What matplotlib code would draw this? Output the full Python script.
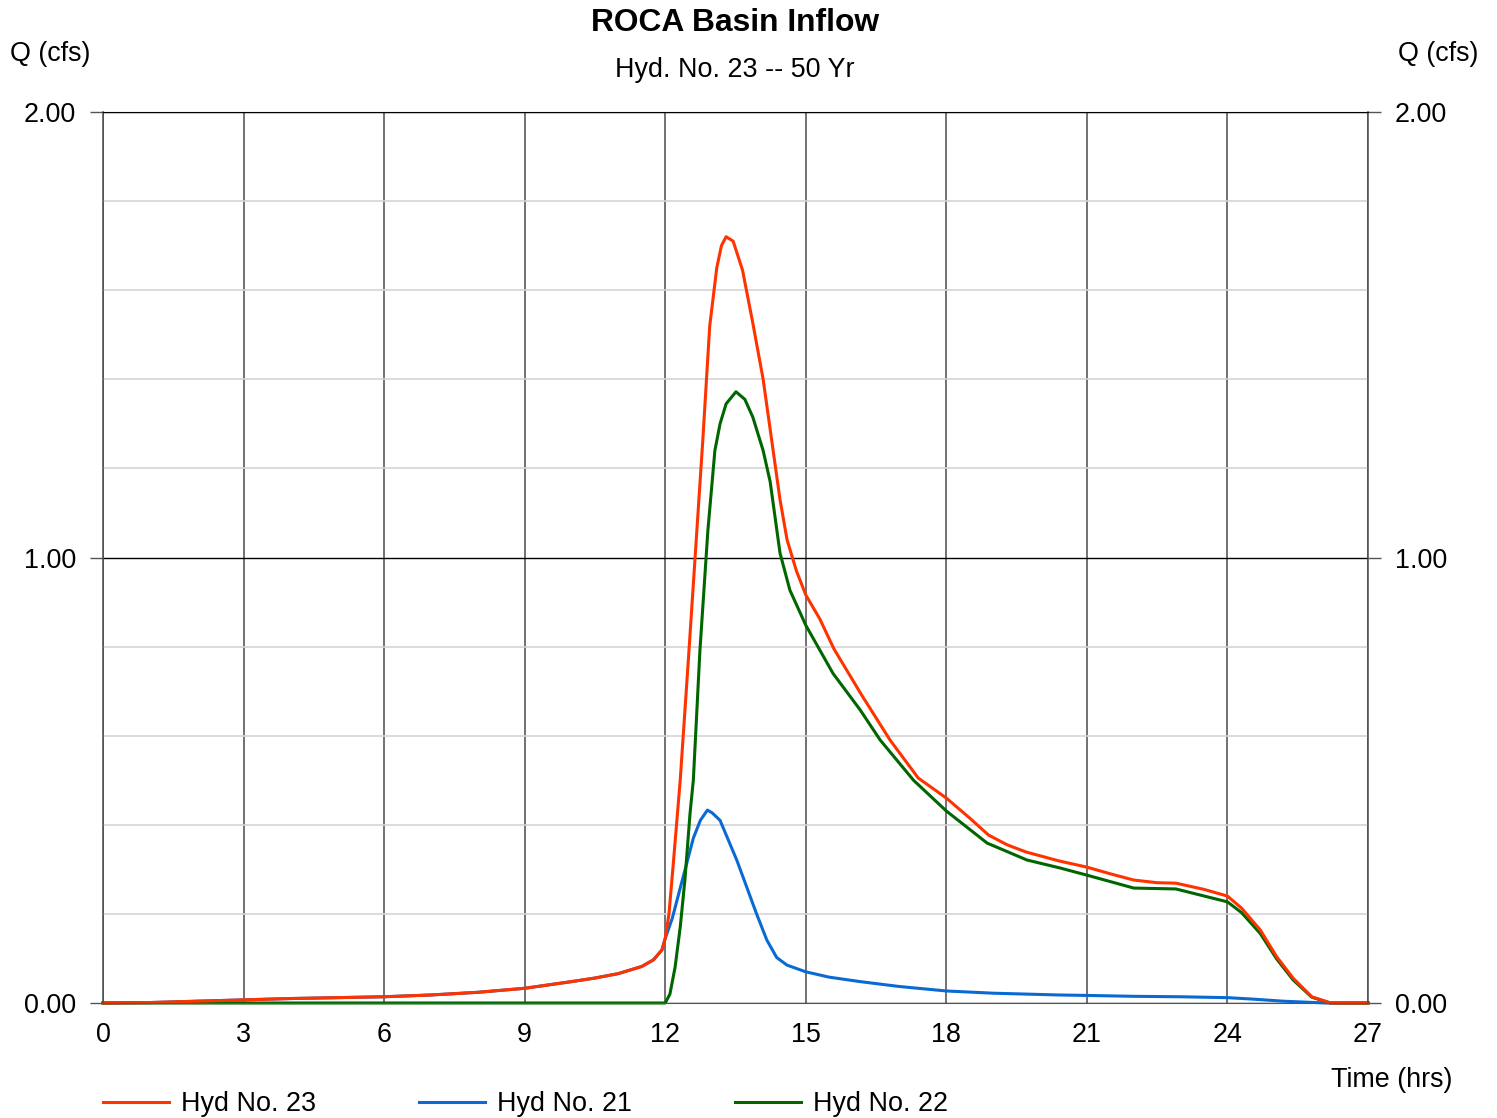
# Hidrograma ROCA Basin Inflow
import matplotlib
matplotlib.use("Agg")
import matplotlib.pyplot as plt
from matplotlib.ticker import MultipleLocator

plt.rcParams['font.family'] = ['Liberation Sans', 'DejaVu Sans']

# datos (horas, cfs)
t23 = [0, 1, 2, 3, 4, 5, 6, 7, 8, 9, 10, 10.5, 11, 11.5, 11.75, 11.93, 12.0,
       12.08, 12.17, 12.32, 12.5, 12.65, 12.8, 12.95, 13.1, 13.2, 13.3, 13.45,
       13.65, 13.87, 14.09, 14.27, 14.45, 14.6, 14.8, 15.0, 15.3, 15.6, 16.2,
       16.8, 17.4, 18.0, 18.5, 18.9, 19.3, 19.7, 20.4, 21.0, 21.5, 22.0, 22.5,
       22.9, 23.5, 24.0, 24.3, 24.7, 25.05, 25.4, 25.8, 26.2, 27]
q23 = [0, 0.001, 0.004, 0.007, 0.010, 0.012, 0.014, 0.018, 0.024, 0.033, 0.048,
       0.056, 0.066, 0.082, 0.097, 0.119, 0.145, 0.20, 0.31, 0.50, 0.78, 1.02,
       1.26, 1.52, 1.65, 1.70, 1.72, 1.71, 1.645, 1.526, 1.40, 1.265, 1.13,
       1.04, 0.97, 0.916, 0.862, 0.795, 0.69, 0.59, 0.505, 0.46, 0.415, 0.377,
       0.355, 0.339, 0.319, 0.305, 0.29, 0.276, 0.27, 0.269, 0.255, 0.24,
       0.213, 0.164, 0.104, 0.056, 0.014, 0, 0]

t21 = [0, 1, 2, 3, 4, 5, 6, 7, 8, 9, 10, 10.5, 11, 11.5, 11.75, 11.93, 12.0,
       12.15, 12.3, 12.45, 12.6, 12.75, 12.9, 13.0, 13.17, 13.53, 13.95, 14.17,
       14.38, 14.6, 15.0, 15.5, 16.16, 17.0, 18.0, 19.0, 20.4, 21.0, 22.0,
       23.0, 24.0, 24.5, 25.2, 26.1, 27]
q21 = [0, 0.001, 0.004, 0.007, 0.010, 0.012, 0.014, 0.018, 0.024, 0.033, 0.048,
       0.056, 0.066, 0.082, 0.097, 0.119, 0.145, 0.19, 0.25, 0.31, 0.37, 0.41,
       0.433, 0.427, 0.41, 0.32, 0.20, 0.141, 0.102, 0.085, 0.070, 0.058,
       0.048, 0.037, 0.027, 0.022, 0.018, 0.017, 0.015, 0.014, 0.012, 0.009,
       0.004, 0, 0]

t22 = [0, 12.0, 12.1, 12.21, 12.32, 12.42, 12.53, 12.6, 12.74, 12.91, 13.06,
       13.17, 13.3, 13.51, 13.7, 13.87, 14.09, 14.24, 14.45, 14.66, 15.0,
       15.58, 16.16, 16.59, 17.3, 18.0, 18.87, 19.72, 20.43, 21.0, 22.0, 22.9,
       24.0, 24.3, 24.7, 25.05, 25.4, 25.8, 26.2, 27]
q22 = [0, 0, 0.02, 0.08, 0.17, 0.276, 0.426, 0.5, 0.79, 1.06, 1.24, 1.30,
       1.345, 1.372, 1.355, 1.315, 1.24, 1.17, 1.01, 0.927, 0.848, 0.74, 0.658,
       0.59, 0.50, 0.431, 0.359, 0.321, 0.303, 0.287, 0.258, 0.256, 0.227,
       0.203, 0.156, 0.099, 0.052, 0.013, 0, 0]

xticks = [0, 3, 6, 9, 12, 15, 18, 21, 24, 27]
yticks = [0, 1, 2]

fs = 19.4

fig = plt.figure(figsize=(14.97, 11.18), dpi=100)
ax = fig.add_axes([103/1497, 1-1003/1118, 1265/1497, 891/1118])

# rejilla
ax.set_xlim(0, 27)
ax.set_ylim(0, 2)
ax.set_xticks(xticks)
ax.set_yticks(yticks)
ax.set_yticklabels(['%.2f' % v for v in yticks])
ax.yaxis.set_minor_locator(MultipleLocator(0.2))
ax.grid(which='minor', axis='y', color='#d4d4d4', lw=1.2)
ax.grid(which='major', axis='y', color='black', lw=1.0)
ax.grid(which='major', axis='x', color='#4a4a4a', lw=1.1)
ax.set_axisbelow(True)
for s in ['left', 'right']:
    ax.spines[s].set_color('#4a4a4a')
    ax.spines[s].set_linewidth(1.1)
ax.spines['top'].set_color('black')
ax.spines['bottom'].set_color('#555555')

ax.tick_params(axis='x', length=0, pad=14, labelsize=fs)
ax.tick_params(axis='y', which='major', length=9.4, width=1, color='#555555',
               labelsize=fs, left=True, right=True, labelleft=True,
               labelright=True, pad=10)
ax.tick_params(axis='y', which='minor', length=0, left=False, right=False)

# curvas
l21, = ax.plot(t21, q21, color='#0a6ad4', lw=2.2, clip_on=False)
l22, = ax.plot(t22, q22, color='#006600', lw=2.2, clip_on=False)
l23, = ax.plot(t23, q23, color='#ff3300', lw=2.2, clip_on=False)

# textos
fig.text(735/1497, 1-23/1118, 'ROCA Basin Inflow', ha='center', va='center',
         fontsize=22.9, fontweight='bold')
fig.text(735/1497, 1-70/1118, 'Hyd. No. 23 -- 50 Yr', ha='center',
         va='center', fontsize=fs)
fig.text(10/1497, 1-54/1118, 'Q (cfs)', ha='left', va='center', fontsize=fs)
fig.text(1478/1497, 1-54/1118, 'Q (cfs)', ha='right', va='center',
         fontsize=fs)
fig.text(1452/1497, 1-1080/1118, 'Time (hrs)', ha='right', va='center',
         fontsize=fs)

fig.legend([l23, l21, l22], ['Hyd No. 23', 'Hyd No. 21', 'Hyd No. 22'],
           loc='center left', bbox_to_anchor=(103/1497, 1-1104/1118),
           bbox_transform=fig.transFigure, ncol=3, frameon=False,
           fontsize=fs, handlelength=2.46, handletextpad=0.45,
           columnspacing=3.8, borderpad=0, borderaxespad=0)

fig.savefig('out.png', dpi=100)
